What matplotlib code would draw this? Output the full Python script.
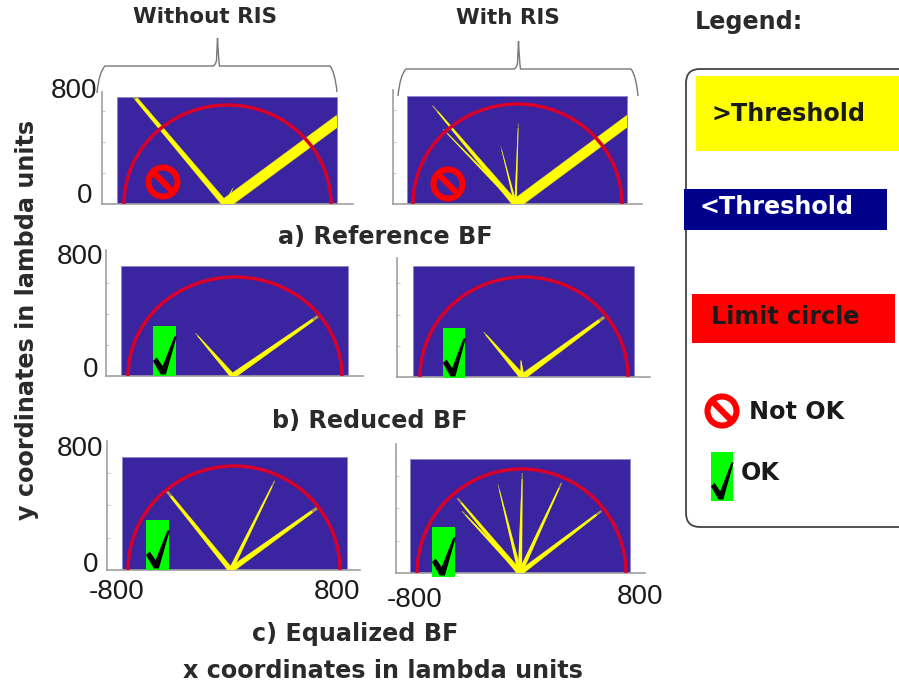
import matplotlib
matplotlib.use("Agg")
import matplotlib.pyplot as plt
from matplotlib.patches import Rectangle, Circle, FancyBboxPatch, PathPatch, Polygon
from matplotlib.path import Path
import numpy as np

W, H = 899, 686
plt.rcParams['font.family'] = ['Liberation Sans', 'DejaVu Sans']

LIMIT_RADIUS = 800
panel_names = ["a_left", "a_right", "b_left", "b_right", "c_left", "c_right"]

# beam tips in lambda units, one list per panel
tip_x = [
    [-750, 920, 45],
    [-650, -570, -128, 6, 920],
    [-295, 621],
    [-310, 617, -24],
    [-505, 307, 627],
    [-490, -455, -180, 6, 307, 611],
]
tip_y = [
    [905, 725, 134],
    [787, 600, 461, 645, 725],
    [345, 483],
    [359, 479, 138],
    [604, 686, 477],
    [575, 475, 682, 770, 695, 477],
]
# full beam width at the origin, lambda units
beam_w = [
    [46, 80, 16],
    [46, 22, 18, 16, 76],
    [36, 42],
    [42, 46, 28],
    [38, 30, 42],
    [40, 28, 28, 30, 32, 38],
]
# width at the tip as a share of the width at the origin
beam_tip = [
    [0.55, 1.0, 0.2],
    [0.2, 0.3, 0.2, 0.3, 1.0],
    [0.2, 0.5],
    [0.2, 0.5, 0.2],
    [0.5, 0.3, 0.5],
    [0.3, 0.3, 0.2, 0.2, 0.3, 0.4],
]
origin_x = [-20, -15, -18, -12, -25, -12]

# pixel layout of each panel: spine x, spine top, baseline y, baseline end,
# circle left, circle right, circle top, rect left, rect right, rect top
layout = [
    (102, 92, 204, 353, 124, 331, 105, 117, 337, 97),
    (393, 90, 204, 642, 413, 622, 104, 407, 627, 96),
    (106, 250, 376, 363, 128, 342, 277, 121, 348, 266),
    (397, 258, 377, 650, 420, 628, 277, 413, 634, 266),
    (107, 441, 570, 360, 128, 340, 466, 122, 347, 457),
    (396, 444, 573, 645, 417, 626, 469, 410, 630, 459),
]

BLUE = "#3a24a0"
RED = "#d8002a"
YELLOW = "#ffff00"
GRAY = "#a0a0a0"


def beam(ax, x0, x1, y1, w, color, tip=0.3, frac=1.0, z=3, clip=None):
    x1 = x0 + (x1 - x0) * frac
    y1 = y1 * frac
    length = np.hypot(x1 - x0, y1)
    nx, ny = y1 / length, -(x1 - x0) / length
    pts = [
        (x0 - nx * w / 2, -ny * w / 2),
        (x0 + nx * w / 2, ny * w / 2),
        (x1 + nx * w * tip / 2, y1 + ny * w * tip / 2),
        (x1 - nx * w * tip / 2, y1 - ny * w * tip / 2),
    ]
    p = Polygon(pts, closed=True, fc=color, ec="none", zorder=z)
    ax.add_patch(p)
    p.set_clip_path(clip)


fig = plt.figure(figsize=(W / 100, H / 100), dpi=100)

for i, name in enumerate(panel_names):
    sx, st, by, be, cl, cr, ct, rl, rr, rt = layout[i]
    ax = fig.add_axes([sx / W, 1 - by / H, (be - sx) / W, (by - st) / H], label=name)
    xs = (cr - cl) / (2 * LIMIT_RADIUS)
    ys = (by - ct) / LIMIT_RADIUS
    ax.set_xlim(-LIMIT_RADIUS + (sx - cl) / xs, LIMIT_RADIUS + (be - cr) / xs)
    ax.set_ylim(0, (by - st) / ys)
    for s in ["top", "right"]:
        ax.spines[s].set_visible(False)
    for s in ["left", "bottom"]:
        ax.spines[s].set_color(GRAY)
        ax.spines[s].set_linewidth(1.2)
    ax.set_yticks([250, 500, 750])
    ax.set_xticks([])
    ax.tick_params(axis="y", direction="in", length=2, color="#c8c8c8", labelleft=False)

    rx0 = -LIMIT_RADIUS + (rl - cl) / xs
    rx1 = -LIMIT_RADIUS + (rr - cl) / xs
    rect = Rectangle((rx0, 0), rx1 - rx0, (by - rt) / ys, fc=BLUE, ec="#8f86cc", lw=0.6, zorder=1)
    ax.add_patch(rect)
    for x, y, w, t in zip(tip_x[i], tip_y[i], beam_w[i], beam_tip[i]):
        beam(ax, origin_x[i], x, y, w * 1.1, "#a89c50", tip=t, z=2, clip=rect)
        beam(ax, origin_x[i], x, y, w, YELLOW, tip=t, frac=0.94, z=3, clip=rect)
    ax.add_patch(Circle((0, 0), LIMIT_RADIUS, fc="none", ec=RED, lw=2.5, zorder=4))

# everything around the panels is placed in pixels
ov = fig.add_axes([0, 0, 1, 1], label="overlay", zorder=10)
ov.set_xlim(0, W)
ov.set_ylim(H, 0)
ov.axis("off")
ov.patch.set_alpha(0)


def brace(x0, x1, ytop, ypeak, yend0, yend1):
    xm = (x0 + x1) / 2
    verts = [
        (x0 - 3, yend0), (x0 - 1, ytop + 6), (x0 + 5, ytop), (xm - 5, ytop),
        (xm - 2, ytop), (xm - 1, ytop - 6), (xm, ypeak),
        (xm + 1, ytop - 6), (xm + 2, ytop), (xm + 5, ytop),
        (x1 - 5, ytop), (x1 + 0, ytop + 6), (x1 + 2, yend1),
    ]
    codes = [Path.MOVETO, Path.CURVE3, Path.CURVE3, Path.LINETO,
             Path.CURVE3, Path.CURVE3, Path.LINETO,
             Path.CURVE3, Path.CURVE3, Path.LINETO,
             Path.LINETO, Path.CURVE3, Path.CURVE3]
    ov.add_patch(PathPatch(Path(verts, codes), fc="none", ec="#777777", lw=1.0))


def no_sign(x, y, r):
    ov.add_patch(Circle((x, y), r, fc="none", ec="#ff0000", lw=4.4, zorder=6))
    d = r * 0.7
    ov.plot([x - d, x + d], [y - d, y + d], color="#ff0000", lw=4.4, zorder=6, solid_capstyle="butt")


def check(x0, x1, y0, y1):
    ov.add_patch(Rectangle((x0, y0), x1 - x0, y1 - y0, fc="#00ff00", ec="none", zorder=6))
    w, h = x1 - x0, y1 - y0
    pts = [(0.0, 0.70), (0.16, 0.63), (0.42, 0.80), (0.93, 0.21), (1.03, 0.21),
           (0.56, 0.97), (0.34, 0.97)]
    ov.add_patch(Polygon([(x0 + a * w, y0 + b * h) for a, b in pts], fc="black", ec="none", zorder=7))


brace(100, 335, 66, 38, 93, 92)
brace(401, 636, 69, 41, 96, 96)

no_sign(163, 182, 14.5)
no_sign(448, 184, 14.5)
check(153, 176, 326, 376)
check(443, 465, 328, 378)
check(146, 169, 520, 570)
check(432, 455, 527, 577)

TITLE = dict(fontfamily=["DejaVu Sans"], fontweight="bold", fontsize=17.2, color="#2a2a2a", ha="center", va="center")
ov.text(205, 17, "Without RIS", **dict(TITLE, fontsize=15.5))
ov.text(508, 18, "With RIS", **dict(TITLE, fontsize=15.5))
ov.text(749, 22, "Legend:", **TITLE)
ov.text(385, 237, "a) Reference BF", **TITLE)
ov.text(370, 421, "b) Reduced BF", **TITLE)
ov.text(355, 634, "c) Equalized BF", **TITLE)
ov.text(383, 671, "x coordinates in lambda units", **TITLE)
ov.text(27, 320, "y coordinates in lambda units", rotation=90, **TITLE)

NUM = dict(fontsize=20, color="#1a1a1a", va="center")
ov.text(97, 91, "800", ha="right", **NUM)
ov.text(92, 196, "0", ha="right", **NUM)
ov.text(103, 257, "800", ha="right", **NUM)
ov.text(98, 370, "0", ha="right", **NUM)
ov.text(103, 449, "800", ha="right", **NUM)
ov.text(98, 565, "0", ha="right", **NUM)
ov.text(117, 592, "-800", ha="center", **NUM)
ov.text(337, 592, "800", ha="center", **NUM)
ov.text(415, 600, "-800", ha="center", **NUM)
ov.text(640, 597, "800", ha="center", **NUM)

# legend box
ov.add_patch(FancyBboxPatch((686, 69), 240, 458, boxstyle="round,pad=0,rounding_size=14",
                            fc="white", ec="#444444", lw=1.3, zorder=1))
ov.add_patch(Rectangle((696, 76), 203, 75, fc=YELLOW, ec="none", zorder=2))
ov.add_patch(Rectangle((684, 189), 203, 41, fc="#00008b", ec="none", zorder=2))
ov.add_patch(Rectangle((692, 294), 203, 49, fc="#ff0000", ec="none", zorder=2))
LEG = dict(fontfamily=["DejaVu Sans"], fontweight="bold", fontsize=17.2, va="center", zorder=3)
ov.text(712, 114, ">Threshold", color="#1a1a1a", **LEG)
ov.text(699, 207, "<Threshold", color="white", **LEG)
ov.text(711, 317, "Limit circle", color="#1a1a1a", **LEG)
ov.text(749, 412, "Not OK", color="#1a1a1a", **LEG)
ov.text(741, 473, "OK", color="#1a1a1a", **LEG)
no_sign(722, 411, 14.5)
check(711, 733, 452, 501)

fig.savefig("out.png", dpi=100)
